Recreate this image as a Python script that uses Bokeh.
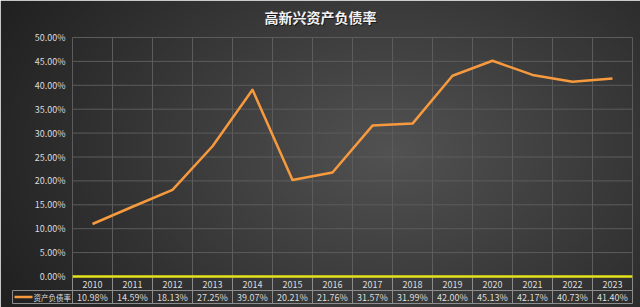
import numpy as np
from bokeh.plotting import figure
from bokeh.models import Range1d, ColumnDataSource, Label
from bokeh.core.properties import value
from bokeh.embed import file_html
from bokeh.resources import INLINE

# ---------------- data ----------------
title = "高新兴资产负债率"
series_name = "资产负债率"
years = ["2010", "2011", "2012", "2013", "2014", "2015", "2016",
         "2017", "2018", "2019", "2020", "2021", "2022", "2023"]
ratios = [10.98, 14.59, 18.13, 27.25, 39.07, 20.21, 21.76,
          31.57, 31.99, 42.00, 45.13, 42.17, 40.73, 41.40]
ratio_labels = ["10.98%", "14.59%", "18.13%", "27.25%", "39.07%", "20.21%", "21.76%",
                "31.57%", "31.99%", "42.00%", "45.13%", "42.17%", "40.73%", "41.40%"]
y_ticks = [0, 5, 10, 15, 20, 25, 30, 35, 40, 45, 50]
y_tick_labels = ["0.00%", "5.00%", "10.00%", "15.00%", "20.00%", "25.00%",
                 "30.00%", "35.00%", "40.00%", "45.00%", "50.00%"]

# ---------------- layout constants ----------------
W, H = 640, 307
PX0, STEP = 72, 40          # plot left edge and category width (px)
Y0, SCALE = 276, 4.78       # pixel row of 0% and px per percent
FONT = value("Noto Sans CJK SC")
FS = "9px"
ORANGE = "#f79a3e"
TEXT = "#dcdcdc"
GRID = "#5c5c5c"
BORDER = "#8c8c8c"

n = len(years)
idx = list(range(n))

p = figure(width=W, height=H, output_backend="svg", toolbar_location=None,
           x_range=Range1d(-(PX0 + STEP / 2) / STEP, (W - PX0 - STEP / 2) / STEP),
           y_range=Range1d(-(H - Y0) / SCALE, Y0 / SCALE),
           x_axis_type=None, y_axis_type=None, min_border=0)
p.outline_line_color = None
p.xgrid.visible = False
p.ygrid.visible = False
p.extra_x_ranges = {"px": Range1d(0, W)}
p.extra_y_ranges = {"py": Range1d(H, 0), "pb": Range1d(0, H)}

# ---------------- background radial gradient ----------------
xx, yy = np.meshgrid(np.arange(W), np.arange(H))
ptop = H - 1 - yy
d = np.sqrt(((xx - 390) / 430.0) ** 2 + ((ptop - 150) / 300.0) ** 2)
g = np.clip(82 - 48 * d, 32, 90).astype(np.uint8)
img = np.empty((H, W), dtype=np.uint32)
view = img.view(dtype=np.uint8).reshape((H, W, 4))
view[..., 0] = g
view[..., 1] = g
view[..., 2] = g
view[..., 3] = 255
p.image_rgba(image=[img], x=0, y=0, dw=W, dh=H, x_range_name="px", y_range_name="pb")

# ---------------- grid ----------------
bounds = [i - 0.5 for i in range(n + 1)]
p.segment(x0=bounds, y0=[0] * len(bounds), x1=bounds, y1=[max(y_ticks)] * len(bounds),
          line_color=GRID, line_width=1)
p.segment(x0=[-0.5] * len(y_ticks[1:]), y0=y_ticks[1:], x1=[n - 0.5] * len(y_ticks[1:]),
          y1=y_ticks[1:], line_color=GRID, line_width=1)

# ---------------- y tick labels ----------------
p.text(x=[PX0 - 7] * len(y_ticks), y=y_ticks, text=y_tick_labels, x_range_name="px",
       text_align="right", text_baseline="middle", text_font=FONT,
       text_font_size=FS, text_color=TEXT)

# ---------------- data table ----------------
p.segment(x0=bounds, y0=[Y0 + 1] * len(bounds), x1=bounds, y1=[303] * len(bounds),
          y_range_name="py", line_color=BORDER, line_width=1)
p.segment(x0=[12, 12], y0=[290, 303], x1=[632, 632], y1=[290, 303],
          x_range_name="px", y_range_name="py", line_color=BORDER, line_width=1)
p.segment(x0=[12], y0=[290], x1=[12], y1=[303],
          x_range_name="px", y_range_name="py", line_color=BORDER, line_width=1)
p.text(x=idx, y=[283.5] * n, text=years, y_range_name="py",
       text_align="center", text_baseline="middle", text_font=FONT,
       text_font_size=FS, text_color=TEXT)
p.text(x=idx, y=[296.8] * n, text=ratio_labels, y_range_name="py",
       text_align="center", text_baseline="middle", text_font=FONT,
       text_font_size=FS, text_color=TEXT)
p.segment(x0=[14], y0=[296.5], x1=[32], y1=[296.5], x_range_name="px",
          y_range_name="py", line_color=ORANGE, line_width=2.5)
p.text(x=[33], y=[296.8], text=[series_name], x_range_name="px", y_range_name="py",
       text_align="left", text_baseline="middle", text_font=FONT,
       text_font_size="7.5px", text_color=TEXT)

# ---------------- zero line (axis) ----------------
p.segment(x0=[-0.5], y0=[0], x1=[n - 0.5], y1=[0], line_color="#e4e41e", line_width=2.5)

# ---------------- series ----------------
p.line(idx, ratios, line_color=ORANGE, line_width=2.5, line_join="round")

# ---------------- title ----------------
p.add_layout(Label(x=W / 2 + 1, y=H - 16 - 1, x_units="screen", y_units="screen",
                   text=title, text_align="center", text_baseline="middle",
                   text_font="Noto Sans CJK SC", text_font_style="bold",
                   text_font_size="14px", text_color="#000000", text_alpha=0.6))
p.add_layout(Label(x=W / 2, y=H - 16, x_units="screen", y_units="screen",
                   text=title, text_align="center", text_baseline="middle",
                   text_font="Noto Sans CJK SC", text_font_style="bold",
                   text_font_size="14px", text_color="#f2f2f2"))

open("out.html", "w").write(file_html(p, INLINE))
